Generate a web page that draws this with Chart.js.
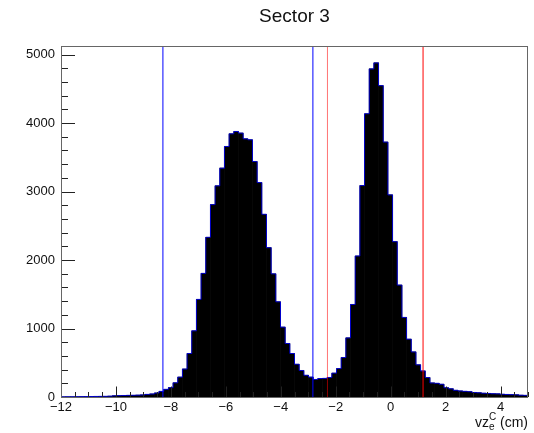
<!DOCTYPE html>
<html>
<head>
<meta charset="utf-8">
<title>Sector 3</title>
<script src="https://cdn.jsdelivr.net/npm/chart.js@4.4.1/dist/chart.umd.min.js"></script>
<style>
    body { margin: 0; background: #fff; }
    #wrap { width: 534px; height: 433px; }
</style>
</head>
<body>
<div id="wrap"><canvas id="myChart" width="534" height="433"></canvas></div>
<script>
// histogram binning (100 bins from -12 to 5 cm)
var xMin = -12;
var xMax = 5;
var binWidth = 0.17;
var yMax = 5125;

// counts per bin
var counts = [
    2, 3, 3, 4, 5, 6, 7, 8, 9, 10,
    12, 18, 20, 22, 24, 25, 27, 30, 38, 44,
    58, 82, 112, 137, 207, 290, 408, 635, 966, 1425,
    1805, 2332, 2809, 3083, 3341, 3658, 3843, 3877, 3853, 3770,
    3756, 3438, 3131, 2668, 2180, 1798, 1390, 1020, 781, 635,
    478, 387, 317, 290, 256, 270, 272, 285, 348, 415,
    576, 863, 1351, 2059, 3087, 4136, 4790, 4878, 4546, 3722,
    2951, 2268, 1634, 1162, 844, 658, 470, 380, 284, 205,
    200, 186, 135, 120, 98, 88, 83, 78, 66, 62,
    55, 52, 48, 46, 40, 37, 34, 32, 26, 24
];

var xTicks = [-12, -10, -8, -6, -4, -2, 0, 2, 4];
var yTicks = [0, 1000, 2000, 3000, 4000, 5000];

// vertical cut lines
var cutLines = [-8.29, -2.83, -2.30, 1.18];
var cutColors = ['#0000ff', '#0000ff', 'rgba(255,0,0,0.55)', '#ff0000'];

var fontFamily = "'Liberation Sans', Arial, sans-serif";

function minus(v) {
    return String(v).replace('-', '\u2212');
}

// frame, inward ticks, title and axis title (ROOT style)
var rootStyle = {
    id: 'rootStyle',
    afterDraw: function (chart) {
        var ctx = chart.ctx;
        var a = chart.chartArea;
        var xs = chart.scales.x;
        var ys = chart.scales.y;

        ctx.save();
        ctx.strokeStyle = '#222';
        ctx.lineWidth = 1;
        ctx.beginPath();
        // x ticks, major every 2, minor every 0.5
        for (var v = xMin; v <= xMax + 1e-9; v += 0.5) {
            var px = Math.round(xs.getPixelForValue(v)) + 0.5;
            var len = (Math.abs(v % 2) < 1e-9) ? 10.5 : 5;
            ctx.moveTo(px, a.bottom);
            ctx.lineTo(px, a.bottom - len);
        }
        // y ticks, major every 1000, minor every 200
        for (var w = 0; w <= yMax; w += 200) {
            var py = Math.round(ys.getPixelForValue(w)) + 0.5;
            var l2 = (w % 1000 === 0) ? 14 : 7;
            ctx.moveTo(a.left, py);
            ctx.lineTo(a.left + l2, py);
        }
        ctx.stroke();

        ctx.strokeStyle = '#666';
        ctx.strokeRect(Math.round(a.left) + 0.5, Math.round(a.top) + 0.5,
            Math.round(a.right - a.left) - 1, Math.round(a.bottom - a.top));

        // title
        ctx.fillStyle = '#111';
        ctx.font = '19px ' + fontFamily;
        ctx.textAlign = 'center';
        ctx.textBaseline = 'middle';
        ctx.fillText('Sector 3', (a.left + a.right) / 2, 17);

        // axis title  vz_e^C (cm), right aligned
        var big = '14px ' + fontFamily;
        var small = '10px ' + fontFamily;
        ctx.textAlign = 'left';
        ctx.textBaseline = 'alphabetic';
        ctx.font = big;
        var w1 = ctx.measureText('vz').width;
        var w3 = ctx.measureText(' (cm)').width;
        ctx.font = small;
        var w2 = Math.max(ctx.measureText('C').width, ctx.measureText('e').width);
        var x0 = a.right - (w1 + w2 + w3);
        var base = 427;
        ctx.font = big;
        ctx.fillText('vz', x0, base);
        ctx.fillText(' (cm)', x0 + w1 + w2, base);
        ctx.font = small;
        ctx.fillText('C', x0 + w1, base - 7);
        ctx.fillText('e', x0 + w1, base + 3);
        ctx.restore();
    }
};

function drawChart() {

    var bars = [];
    var outline = [];
    for (var i = 0; i < counts.length; i++) {
        bars.push({ x: xMin + binWidth * (i + 0.5), y: counts[i] });
        outline.push({ x: xMin + binWidth * i, y: counts[i] });
    }
    outline.push({ x: xMax, y: counts[counts.length - 1] });

    var datasets = [];
    for (var k = 0; k < cutLines.length; k++) {
        datasets.push({
            type: 'line',
            data: [{ x: cutLines[k], y: 0 }, { x: cutLines[k], y: yMax }],
            borderColor: cutColors[k],
            borderWidth: 1,
            pointRadius: 0,
            fill: false,
            order: 1
        });
    }
    datasets.push({
        type: 'line',
        data: outline,
        stepped: 'before',
        borderColor: '#0000cc',
        borderWidth: 1,
        pointRadius: 0,
        fill: false,
        order: 2
    });
    datasets.push({
        type: 'bar',
        data: bars,
        backgroundColor: '#000',
        borderWidth: 0,
        barPercentage: 1,
        categoryPercentage: 1,
        order: 3
    });

    var ctx = document.getElementById('myChart').getContext('2d');
    var myChart = new Chart(ctx, {
        type: 'bar',
        data: { datasets: datasets },
        options: {
            responsive: false,
            animation: false,
            devicePixelRatio: 1,
            layout: { padding: { top: 46, right: 6, left: 0, bottom: 0 } },
            plugins: {
                legend: { display: false },
                tooltip: { enabled: false },
                title: { display: false }
            },
            scales: {
                x: {
                    type: 'linear',
                    min: xMin,
                    max: xMax,
                    offset: false,
                    grid: { display: false, drawTicks: false },
                    border: { display: false },
                    afterBuildTicks: function (axis) {
                        axis.ticks = xTicks.map(function (v) { return { value: v }; });
                    },
                    afterFit: function (axis) { axis.height = 36; },
                    ticks: {
                        padding: 3,
                        autoSkip: false,
                        maxRotation: 0,
                        color: '#111',
                        font: { family: fontFamily, size: 13 },
                        callback: function (v) { return minus(v); }
                    }
                },
                y: {
                    min: 0,
                    max: yMax,
                    grid: { display: false, drawTicks: false },
                    border: { display: false },
                    afterBuildTicks: function (axis) {
                        axis.ticks = yTicks.map(function (v) { return { value: v }; });
                    },
                    afterFit: function (axis) { axis.width = 61; },
                    ticks: {
                        padding: 6,
                        color: '#111',
                        font: { family: fontFamily, size: 13 },
                        callback: function (v) { return String(v); }
                    }
                }
            }
        },
        plugins: [rootStyle]
    });
}

window.onload = drawChart;
</script>
</body>
</html>
